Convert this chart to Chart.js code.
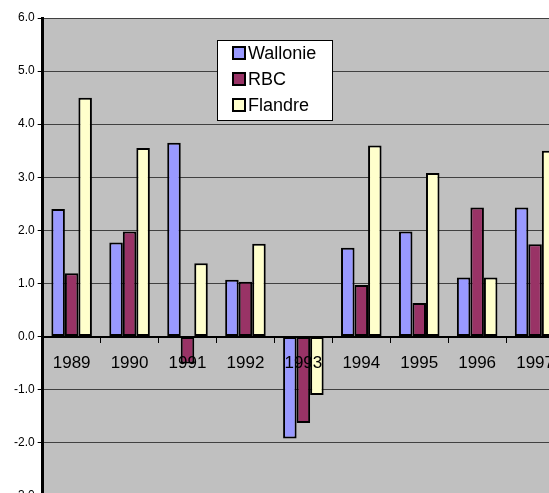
<!DOCTYPE html>
<html>
<head>
<meta charset="utf-8">
<script src="https://cdn.jsdelivr.net/npm/chart.js@4"></script>
<style>
  html, body { margin: 0; padding: 0; background: #fff; overflow: hidden; }
  #wrap { position: absolute; left: 0; top: 0; width: 566px; height: 506px; }
</style>
</head>
<body>
<div id="wrap"><canvas id="chart"></canvas></div>
<script>
const years = ['1989', '1990', '1991', '1992', '1993', '1994', '1995', '1996', '1997']
const wallonie = [2.40, 1.77, 3.65, 1.07, -1.92, 1.67, 1.98, 1.11, 2.43]
const rbc = [1.19, 1.98, -0.51, 1.03, -1.63, 0.97, 0.63, 2.43, 1.74]
const flandre = [4.50, 3.55, 1.38, 1.75, -1.10, 3.60, 3.08, 1.11, 3.50]
const yTicks = [-3, -2, -1, 0, 1, 2, 3, 4, 5, 6]

// grey plot area like the old spreadsheet charts
const plotBg = {
  id: 'plotBg',
  beforeDraw (chart) {
    const { ctx, chartArea: a } = chart
    ctx.save()
    ctx.fillStyle = '#C0C0C0'
    ctx.fillRect(a.left, a.top, a.right - a.left, a.bottom - a.top)
    ctx.restore()
  }
}

// legend box drawn inside the plot
const boxLegend = {
  id: 'boxLegend',
  afterDraw (chart) {
    const { ctx } = chart
    const x = 217, y = 40, w = 115, h = 80
    ctx.save()
    ctx.fillStyle = '#fff'
    ctx.fillRect(x, y, w, h)
    ctx.strokeStyle = '#000'
    ctx.lineWidth = 1
    ctx.strokeRect(x + 0.5, y + 0.5, w, h)
    ctx.font = '18px Arial, "Liberation Sans", sans-serif'
    ctx.textBaseline = 'middle'
    chart.data.datasets.forEach((ds, i) => {
      const cy = y + 13 + i * 26
      ctx.fillStyle = ds.backgroundColor
      ctx.fillRect(x + 16, cy - 6, 12, 12)
      ctx.lineWidth = 2
      ctx.strokeStyle = '#000'
      ctx.strokeRect(x + 16, cy - 6, 12, 12)
      ctx.fillStyle = '#000'
      ctx.fillText(ds.label, x + 31, cy + 1)
    })
    ctx.restore()
  }
}

new Chart(document.getElementById('chart'), {
  type: 'bar',
  data: {
    labels: years,
    datasets: [
      { label: 'Wallonie', data: wallonie, backgroundColor: '#9999FF' },
      { label: 'RBC', data: rbc, backgroundColor: '#993366' },
      { label: 'Flandre', data: flandre, backgroundColor: '#FFFFCC' }
    ]
  },
  options: {
    responsive: true,
    maintainAspectRatio: false,
    animation: false,
    datasets: {
      bar: {
        categoryPercentage: 0.7,
        barPercentage: 1,
        borderColor: '#000',
        borderWidth: 2,
        borderSkipped: false,
        inflateAmount: 0
      }
    },
    layout: { padding: { top: 18, right: 0, left: 11, bottom: 0 } },
    plugins: {
      legend: { display: false },
      tooltip: { enabled: false }
    },
    scales: {
      x: {
        position: { y: 0 },
        grid: { drawOnChartArea: false, drawTicks: true, tickLength: 5, color: '#000', tickWidth: 1 },
        border: { color: '#000', width: 2 },
        ticks: { z: 1, color: '#000', padding: 12, font: { size: 17, family: 'Arial, "Liberation Sans", sans-serif' } }
      },
      y: {
        min: -3,
        max: 6,
        afterBuildTicks: (axis) => { axis.ticks = yTicks.map(v => ({ value: v })) },
        grid: { color: '#404040', lineWidth: 1, tickLength: 5, tickColor: '#000' },
        border: { color: '#000', width: 3 },
        ticks: {
          color: '#000',
          padding: 3,
          font: { size: 12, family: 'Arial, "Liberation Sans", sans-serif' },
          callback: (v) => Number(v).toFixed(1)
        }
      }
    }
  },
  plugins: [plotBg, boxLegend]
})
</script>
</body>
</html>
